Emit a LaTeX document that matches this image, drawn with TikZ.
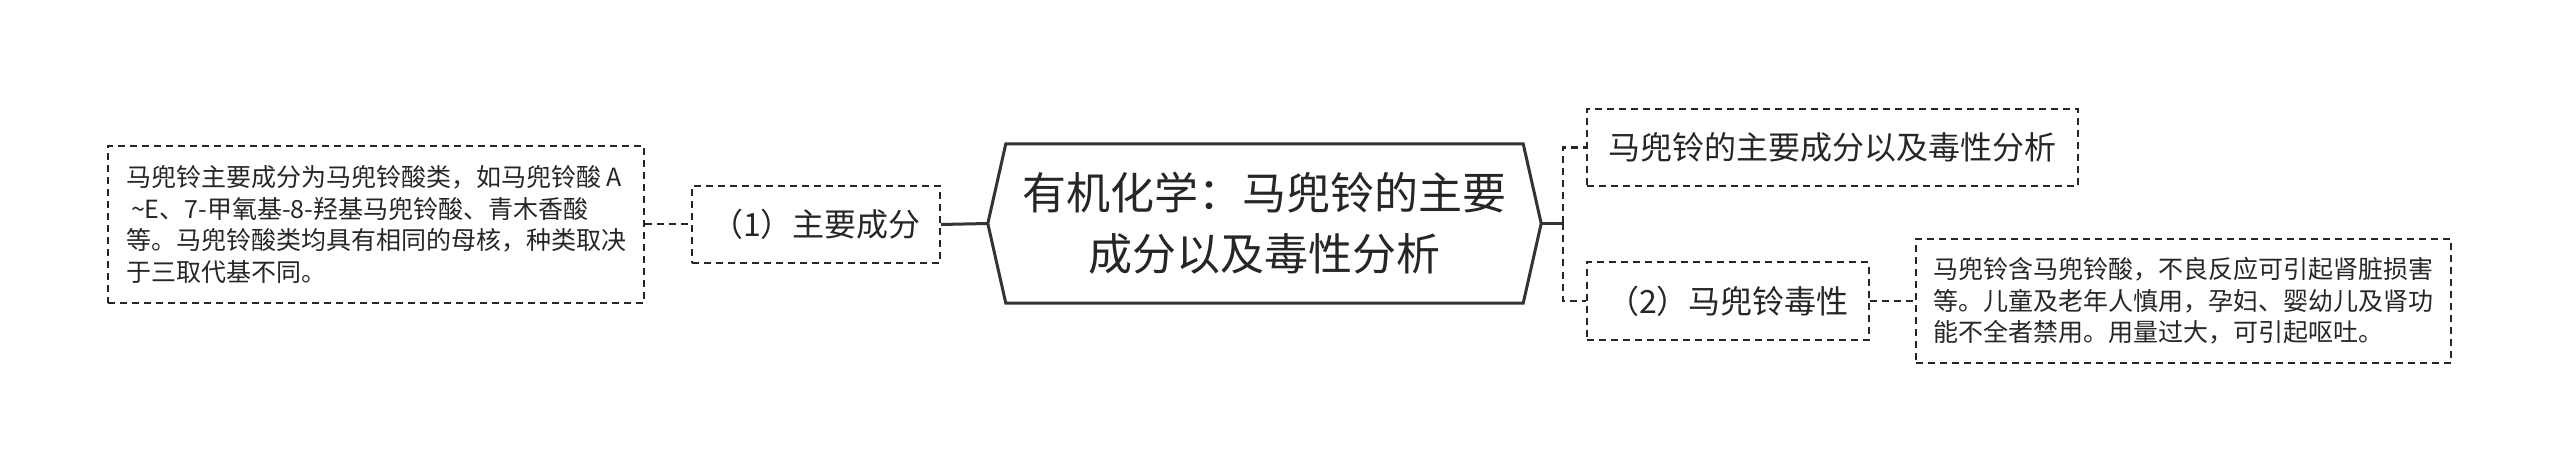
\documentclass[tikz,border=0pt]{standalone}
\usepackage{fontspec}
\setmainfont{Noto Sans CJK SC}
\usepackage{xcolor}
\usetikzlibrary{positioning}

\tikzset{
  topicbox/.style={draw=black!85, line width=2pt, dash pattern=on 7pt off 5pt,
    inner sep=0pt, text=black!85, font=\fontsize{32}{40}\selectfont},
  notebox/.style={topicbox, align=left, font=\fontsize{25}{31.5}\selectfont},
  linkline/.style={draw=black!85, line width=2pt, dash pattern=on 7pt off 5pt},
  rootline/.style={draw=black!80, line width=3pt},
}

\begin{document}
\begin{tikzpicture}[x=1pt, y=-1pt]
    \useasboundingbox (0,0) rectangle (2560,473);

    % centre
    \node[align=center, inner sep=0pt, minimum width=553pt, minimum height=159pt,
          text=black!85, font=\fontsize{44}{61}\selectfont] (root) at (1264.5,223.5)
          {有机化学：马兜铃的主要\\成分以及毒性分析};
    \draw[rootline, line join=miter] (root.west) -- ([xshift=18pt]root.north west)
        -- ([xshift=-18pt]root.north east) -- (root.east)
        -- ([xshift=-18pt]root.south east) -- ([xshift=18pt]root.south west) -- cycle;

    % left: (1)
    \node[topicbox, minimum width=248pt, minimum height=77pt] (partA) at (816,224.5)
          {（1）主要成分};
    \node[notebox, minimum width=536pt, minimum height=157pt] (noteA) at (376,224.5)
          {马兜铃主要成分为马兜铃酸类，如马兜铃酸 A\\\hspace*{5pt}\textasciitilde E、7-甲氧基-8-羟基马兜铃酸、青木香酸\\等。马兜铃酸类均具有相同的母核，种类取决\\于三取代基不同。};

    % right: title and (2)
    \node[topicbox, minimum width=491pt, minimum height=77pt] (title) at (1832.5,147.5)
          {马兜铃的主要成分以及毒性分析};
    \node[topicbox, minimum width=282pt, minimum height=77pt] (partB) at (1728,301)
          {（2）马兜铃毒性};
    \node[notebox, minimum width=535pt, minimum height=124pt] (noteB) at (2183.5,301)
          {马兜铃含马兜铃酸，不良反应可引起肾脏损害\\等。儿童及老年人慎用，孕妇、婴幼儿及肾功\\能不全者禁用。用量过大，可引起呕吐。};

    % connectors
    \draw[rootline] (partA.east) -- (root.west);
    \draw[linkline] (noteA.east) -- (partA.west);
    \coordinate (fork) at (1563,223.5);
    \draw[rootline] (root.east) -- (fork);
    \draw[linkline, line width=2.5pt] (fork) |- (title.west);
    \draw[linkline, line width=2.5pt] (fork) |- (partB.west);
    \draw[linkline] (partB.east) -- (noteB.west);
\end{tikzpicture}
\end{document}
